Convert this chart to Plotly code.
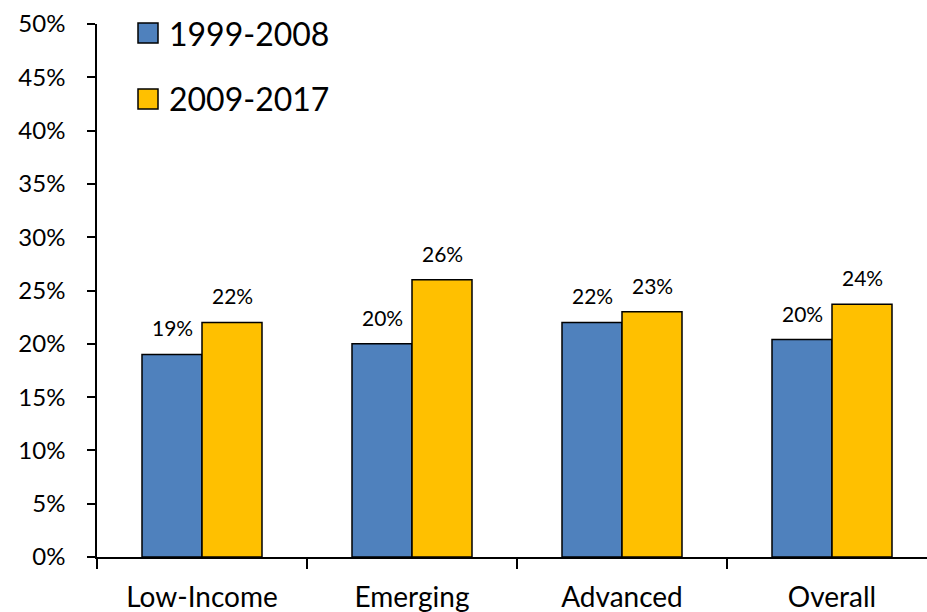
import plotly.graph_objects as go

categories = ["Low-Income", "Emerging", "Advanced", "Overall"]
series_names = ["1999-2008", "2009-2017"]
values_1999_2008 = [19.0, 20.0, 22.0, 20.4]
values_2009_2017 = [22.0, 26.0, 23.0, 23.7]
colors = ["#4F81BD", "#FFC000"]

FONT = "Lato"
W, H = 927, 612
L, R, T, B = 97, 0, 24, 55
pw, ph = W - L - R, H - T - B
cat_px = 210.0
x_hi = -0.5 + pw / cat_px

fig = go.Figure()
series = [values_1999_2008, values_2009_2017]
for name, vals, col in zip(series_names, series, colors):
    fig.add_trace(go.Bar(
        x=categories, y=vals, name=name, marker_color=col,
        marker_line=dict(color="black", width=1.5), showlegend=False,
    ))

bar_px = 60
for si, vals in enumerate(series):
    shift = (-0.5 if si == 0 else 0.5) * bar_px
    for c, v in zip(categories, vals):
        fig.add_annotation(x=c, y=v, xref="x", yref="y", text=f"{round(v)}%",
                           showarrow=False, xshift=shift, yshift=13, borderpad=0,
                           yanchor="bottom", font=dict(family=FONT, size=21, color="black"))

# legend drawn manually
leg_y_px = [33, 99]
for name, col, ypx in zip(series_names, colors, leg_y_px):
    xa = (138 - L) / pw
    ya = (H - B - ypx) / ph
    fig.add_shape(type="rect", xref="paper", yref="paper",
                  xsizemode="pixel", ysizemode="pixel", xanchor=xa, yanchor=ya,
                  x0=0, x1=20, y0=-10, y1=10,
                  fillcolor=col, line=dict(color="black", width=1.5))
    fig.add_annotation(x=(168 - L) / pw, y=ya, xref="paper", yref="paper",
                       text=name, showarrow=False, xanchor="left", yanchor="middle",
                       borderpad=0, font=dict(family=FONT, size=32, color="black"))

fig.update_layout(
    width=W, height=H, barmode="group", bargap=90 / 210, bargroupgap=0,
    margin=dict(l=L, r=R, t=T, b=B),
    plot_bgcolor="white", paper_bgcolor="white",
    font=dict(family=FONT, color="black"),
)
fig.update_xaxes(range=[-0.5, x_hi], showline=True, linecolor="black", linewidth=1.5,
                 ticks="outside", tickson="boundaries", ticklen=10, tickwidth=1.5,
                 tickcolor="black", tickfont=dict(family=FONT, size=28),
                 ticklabelstandoff=15, showgrid=False, zeroline=False, automargin=False)
fig.update_yaxes(range=[0, 50], dtick=5, ticksuffix="%", showline=True,
                 linecolor="black", linewidth=1.5, ticks="outside", ticklen=8,
                 tickwidth=1.5, tickcolor="black", tickfont=dict(family=FONT, size=24),
                 ticklabelstandoff=17, showgrid=False, zeroline=False, automargin=False)

fig.write_html("out.html", config={"displayModeBar": False},
               post_script="document.body.style.margin='0';")
